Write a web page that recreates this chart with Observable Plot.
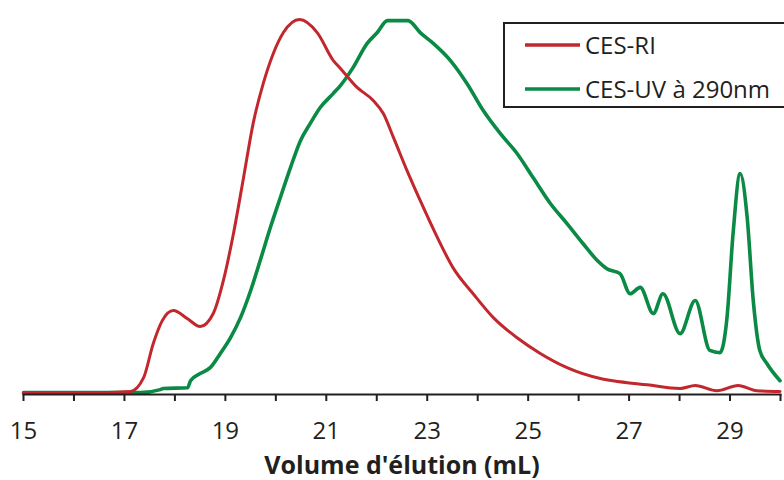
<!DOCTYPE html>
<html>
<head>
<meta charset="utf-8">
<script src="https://cdn.jsdelivr.net/npm/d3@7"></script>
<script src="https://cdn.jsdelivr.net/npm/@observablehq/plot@0.6"></script>
<style>
  html, body { margin: 0; padding: 0; background: #fff; }
  #wrap { position: relative; width: 784px; height: 480px; overflow: hidden; }
  #wrap svg { font-family: "Open Sans", sans-serif; }
  #wrap svg [aria-label="x-axis label"] text { font-weight: bold; font-size: 25px; }
  #legend { position: absolute; left: 503px; top: 22px; width: 290px; height: 82px;
    border: 2px solid #231F20; background: #fff; font-family: "Open Sans", sans-serif;
    font-size: 24px; color: #231F20; }
  .row { position: absolute; left: 20px; display: flex; align-items: center; }
  .row span { margin-left: 5px; }
</style>
</head>
<body>
<div id="wrap"></div>
<script>
// Elution volume (mL) and normalised signal
const riVolume = [15, 16.52, 17.12, 17.38, 17.57, 17.75, 17.97, 18.25, 18.5, 18.76, 18.96, 19.16, 19.36, 19.55, 19.75, 19.95, 20.15, 20.47, 20.82, 21.14, 21.28, 21.61, 21.93, 22.13, 22.33, 22.6, 22.86, 23.2, 23.51, 23.91, 24.31, 24.78, 25.24, 25.77, 26.43, 26.68, 27.36, 28.01, 28.31, 28.74, 29.16, 29.53, 29.99];
const riSignal = [0, 0, 0.3, 4.0, 13.1, 19.3, 22.0, 19.8, 17.7, 21.2, 30.0, 42.6, 57.6, 72.1, 82.8, 90.9, 96.5, 100, 96.5, 89.0, 86.9, 81.8, 78.3, 74.8, 68.4, 59.5, 51.5, 41.6, 33.5, 26.5, 20.1, 14.7, 10.5, 6.7, 3.8, 3.2, 2.1, 1.1, 1.9, 0.5, 1.9, 0.5, 0.3];

const uvVolume = [15, 17.32, 17.71, 17.77, 18.25, 18.31, 18.5, 18.7, 18.9, 19.1, 19.3, 19.5, 19.69, 19.89, 20.09, 20.29, 20.49, 20.68, 20.88, 21.14, 21.28, 21.53, 21.81, 22.01, 22.21, 22.62, 22.86, 23.12, 23.46, 23.79, 24.11, 24.45, 24.78, 25.1, 25.44, 25.77, 26.09, 26.37, 26.56, 26.82, 27.02, 27.22, 27.48, 27.67, 28.01, 28.31, 28.6, 28.8, 28.94, 29.06, 29.2, 29.34, 29.46, 29.59, 29.73, 29.99];
const uvSignal = [0, 0, 0.8, 1.1, 1.3, 3.2, 5.1, 6.7, 10.5, 14.7, 20.1, 27.3, 35.4, 44.2, 52.3, 60.3, 67.6, 72.1, 76.4, 80.2, 82.3, 87.1, 93.6, 96.5, 99.7, 99.7, 96.5, 93.6, 89.0, 82.8, 75.6, 69.4, 64.1, 57.6, 50.7, 45.3, 39.9, 35.4, 33.2, 31.9, 26.5, 28.2, 21.2, 26.5, 15.8, 24.7, 11.3, 10.7, 20.1, 42.6, 58.7, 46.9, 24.7, 11.3, 7.8, 3.2];

const seriesNames = ["CES-RI", "CES-UV à 290nm"];
const seriesColors = ["#C1272D", "#0A8A44"];
const xTicks = d3.range(15, 31);
const xLabel = "Volume d'élution (mL)";

const ri = riVolume.map((v, i) => ({v, s: riSignal[i]}));
const uv = uvVolume.map((v, i) => ({v, s: uvSignal[i]}));

const chart = Plot.plot({
  width: 784,
  height: 480,
  marginLeft: 23,
  marginRight: 4,
  marginTop: 19,
  marginBottom: 86,
  style: {fontSize: "24px", color: "#231F20", background: "#fff", overflow: "visible"},
  x: {domain: [15, 30]},
  y: {domain: [-0.5, 100], axis: null},
  marks: [
    Plot.line(uv, {x: "v", y: "s", stroke: seriesColors[1], strokeWidth: 3.6, curve: "monotone-x"}),
    Plot.line(ri, {x: "v", y: "s", stroke: seriesColors[0], strokeWidth: 3, curve: "monotone-x"}),
    Plot.frame({anchor: "bottom", stroke: "#231F20", strokeWidth: 2, strokeOpacity: 1}),
    Plot.axisX({
      ticks: xTicks,
      tickSize: 7,
      tickPadding: 20,
      tickFormat: d => (d % 2 === 1 ? String(d) : ""),
      stroke: "#231F20",
      strokeWidth: 2,
      fill: "#231F20",
      label: xLabel,
      labelAnchor: "center",
      labelArrow: "none",
      labelOffset: 79,
      fontSize: 24
    })
  ]
});

const wrap = document.getElementById("wrap");
wrap.appendChild(chart);

const legend = document.createElement("div");
legend.id = "legend";
seriesNames.forEach((name, i) => {
  const row = document.createElement("div");
  row.className = "row";
  row.style.top = (i === 0 ? 4 : 48) + "px";
  row.innerHTML = `<svg width="55" height="6"><line x1="0" y1="3" x2="55" y2="3" stroke="${seriesColors[i]}" stroke-width="3.5"/></svg><span>${name}</span>`;
  legend.appendChild(row);
});
wrap.appendChild(legend);
</script>
</body>
</html>
